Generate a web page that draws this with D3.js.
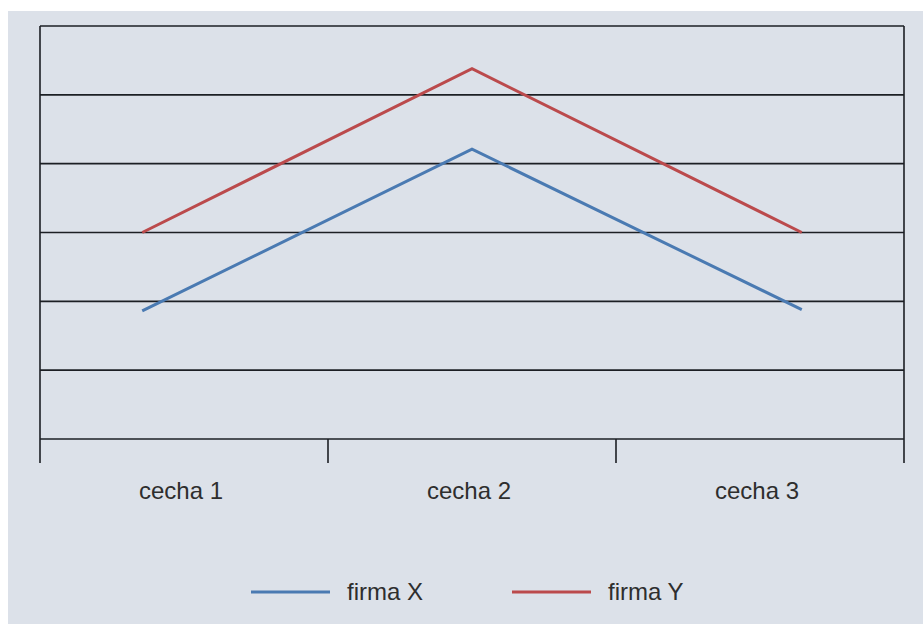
<!DOCTYPE html>
<html>
<head>
<meta charset="utf-8">
<script src="https://cdn.jsdelivr.net/npm/d3@7/dist/d3.min.js"></script>
<style>
  html, body { margin: 0; padding: 0; background: #ffffff; }
  svg { display: block; }
  text { font-family: "Liberation Sans", Arial, sans-serif; fill: #2e2e2e; }
</style>
</head>
<body>
<svg id="chart" width="923" height="624"></svg>
<script>
// Categories and series
const categories = ["cecha 1", "cecha 2", "cecha 3"];
const firmaX = [1.86, 4.21, 1.88];
const firmaY = [3.0, 5.38, 3.0];
const seriesNames = ["firma X", "firma Y"];
const seriesColors = ["#4a7ab2", "#bb4a4c"];
const yTicks = [0, 1, 2, 3, 4, 5, 6];

const svg = d3.select("#chart");
const W = 923, H = 624;
const m = { left: 40, right: 19, top: 26, bottom: 185 };

// Panel background
svg.append("rect")
  .attr("x", 8).attr("y", 11)
  .attr("width", W - 8).attr("height", H - 11)
  .attr("fill", "#dce1e9");

const x = d3.scaleBand().domain(categories).range([m.left, W - m.right]);
const xp = d3.scalePoint().domain(categories).range([m.left, W - m.right]).padding(0.31);
const y = d3.scaleLinear().domain([0, 6]).range([H - m.bottom, m.top]);

// Horizontal grid lines
svg.append("g")
  .selectAll("line")
  .data(yTicks)
  .join("line")
  .attr("x1", m.left).attr("x2", W - m.right)
  .attr("y1", d => y(d)).attr("y2", d => y(d))
  .attr("stroke", "#1c1f24").attr("stroke-width", 1.6);

// Left and right frame lines
svg.append("g")
  .selectAll("line")
  .data([m.left, W - m.right])
  .join("line")
  .attr("x1", d => d).attr("x2", d => d)
  .attr("y1", y(6)).attr("y2", y(0) + 24)
  .attr("stroke", "#1c1f24").attr("stroke-width", 1.6);

// Category axis with ticks at band boundaries
const xAxis = d3.axisBottom(x).tickSize(0).tickPadding(60);
const gx = svg.append("g")
  .attr("transform", `translate(0,${y(0)})`)
  .call(xAxis);
gx.select(".domain").remove();
gx.selectAll("text")
  .style("font-size", "24px")
  .attr("fill", "#2e2e2e")
  .attr("dx", "-3")
  .attr("dy", "0");

const bounds = categories.map(c => x(c)).slice(1);
svg.append("g")
  .selectAll("line")
  .data(bounds)
  .join("line")
  .attr("x1", d => d).attr("x2", d => d)
  .attr("y1", y(0)).attr("y2", y(0) + 24)
  .attr("stroke", "#1c1f24").attr("stroke-width", 1.6);

// Series lines
const line = d3.line()
  .x((d, i) => xp(categories[i]))
  .y(d => y(d));

[firmaX, firmaY].forEach((s, k) => {
  svg.append("path")
    .datum(s)
    .attr("d", line)
    .attr("fill", "none")
    .attr("stroke", seriesColors[k])
    .attr("stroke-width", 3);
});

// Legend
const legend = svg.append("g").attr("transform", "translate(251,592)");
const legItems = legend.selectAll("g")
  .data(seriesNames)
  .join("g")
  .attr("transform", (d, i) => `translate(${i * 261},0)`);
legItems.append("line")
  .attr("x1", 0).attr("x2", 79)
  .attr("y1", 0).attr("y2", 0)
  .attr("stroke", (d, i) => seriesColors[i])
  .attr("stroke-width", 3);
legItems.append("text")
  .attr("x", 96).attr("y", 8)
  .style("font-size", "24px")
  .text(d => d);
</script>
</body>
</html>
